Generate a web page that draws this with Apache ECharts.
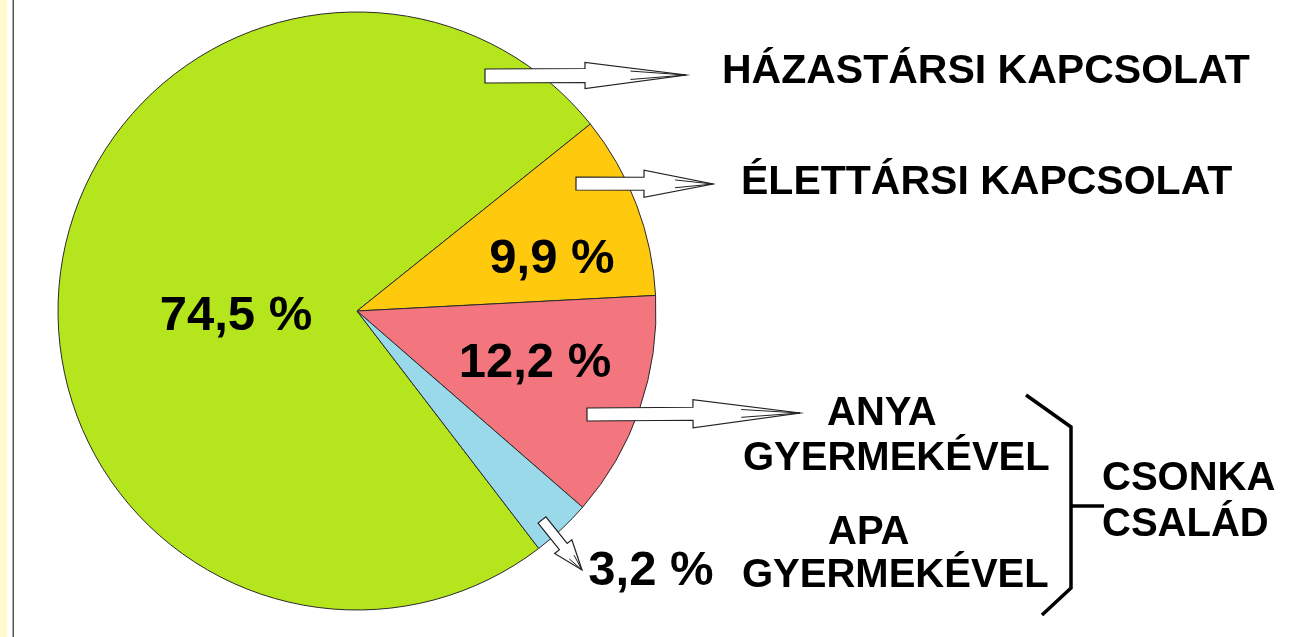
<!DOCTYPE html>
<html>
<head>
<meta charset="utf-8">
<script src="https://cdn.jsdelivr.net/npm/echarts@6/dist/echarts.min.js"></script>
<style>
  html, body { margin: 0; padding: 0; background: #fff; }
  #main { width: 1309px; height: 637px; }
</style>
</head>
<body>
<div id="main"></div>
<script>
// household types (Hungarian census style chart)
var categories = ['HÁZASTÁRSI KAPCSOLAT', 'ÉLETTÁRSI KAPCSOLAT', 'ANYA GYERMEKÉVEL', 'APA GYERMEKÉVEL'];
var shares = [74.5, 9.9, 12.2, 3.2];
var sliceColors = ['#b5e61d', '#ffc90e', '#f3767e', '#99d9ea'];
var groupLabel = ['CSONKA', 'CSALÁD'];

var FONT = '"Liberation Sans", Arial, sans-serif';

// where the percentage labels sit (px)
var labelPos = [[236, 316], [552, 259], [535, 363], [651, 571]];

var chartDom = document.getElementById('main');
var myChart = echarts.init(chartDom);

function pct(v) {
    return v.toFixed(1).replace('.', ',') + ' %';
}

// hollow block arrow from (sx,sy) to tip (tx,ty)
function arrow(sx, sy, tx, ty, shaftHalf, headLen, headHalf) {
    var dx = tx - sx, dy = ty - sy;
    var len = Math.sqrt(dx * dx + dy * dy);
    var ux = dx / len, uy = dy / len;
    var nx = -uy, ny = ux;
    var bx = tx - ux * headLen, by = ty - uy * headLen;
    var pts = [
        [sx + nx * shaftHalf, sy + ny * shaftHalf],
        [bx + nx * shaftHalf, by + ny * shaftHalf],
        [bx + nx * headHalf, by + ny * headHalf],
        [tx, ty],
        [bx - nx * headHalf, by - ny * headHalf],
        [bx - nx * shaftHalf, by - ny * shaftHalf],
        [sx - nx * shaftHalf, sy - ny * shaftHalf]
    ];
    var mx = bx + ux * headLen * 0.45, my = by + uy * headLen * 0.45;
    return [{
        type: 'polygon',
        z: 100,
        shape: { points: pts },
        style: { fill: '#fff', stroke: '#222', lineWidth: 1.2 }
    }, {
        type: 'polyline',
        z: 101,
        shape: { points: [[mx + nx * shaftHalf * 0.6, my + ny * shaftHalf * 0.6], [tx, ty], [mx - nx * shaftHalf * 0.6, my - ny * shaftHalf * 0.6]] },
        style: { stroke: '#222', lineWidth: 1, fill: null }
    }];
}

function txt(str, x, y, size) {
    return {
        type: 'text',
        z: 100,
        x: x,
        y: y,
        style: {
            text: str,
            fill: '#000',
            font: 'bold ' + size + 'px ' + FONT,
            textAlign: 'left',
            textVerticalAlign: 'middle'
        }
    };
}

var graphics = [
    // frame on the left
    { type: 'rect', z: 100, shape: { x: 0, y: 0, width: 7, height: 637 }, style: { fill: '#fffbcf' } },
    { type: 'rect', z: 100, shape: { x: 12.5, y: 0, width: 1.5, height: 637 }, style: { fill: '#555' } },
    // bracket for the single parent group
    { type: 'polyline', z: 100, shape: { points: [[1026, 395], [1071, 427], [1071, 588], [1042, 615]] },
      style: { stroke: '#000', lineWidth: 3.5, fill: null } },
    { type: 'line', z: 100, shape: { x1: 1071, y1: 506, x2: 1104, y2: 506 }, style: { stroke: '#000', lineWidth: 3.5 } },
    txt(categories[0], 722, 72, 41),
    txt(categories[1], 741, 183, 41),
    txt(categories[2].split(' ')[0], 827, 414, 40),
    txt(categories[2].split(' ')[1], 743, 459, 40),
    txt(categories[3].split(' ')[0], 828, 533, 40),
    txt(categories[3].split(' ')[1], 742, 576, 40),
    txt(groupLabel[0], 1102, 479, 40),
    txt(groupLabel[1], 1102, 525, 40)
];
graphics = graphics
    .concat(arrow(485, 76, 686, 75, 7, 101, 13))
    .concat(arrow(576, 183.5, 713, 184, 6.5, 69, 13.5))
    .concat(arrow(587, 414.5, 800, 413, 6.5, 107, 14))
    .concat(arrow(542, 520, 582, 570, 5, 30, 11));

var total = shares.reduce(function (a, b) { return a + b; }, 0);
var option = {
    backgroundColor: '#fff',
    animation: false,
    graphic: graphics,
    series: [{
        type: 'pie',
        center: [357, 311],
        radius: [0, 299],
        startAngle: 38.7 + shares[0] / total * 360,
        clockwise: true,
        silent: true,
        itemStyle: { borderColor: '#2a2a2a', borderWidth: 1 },
        label: {
            show: true,
            position: 'inside',
            color: '#000',
            fontFamily: FONT,
            fontWeight: 'bold',
            fontSize: 49,
            formatter: function (p) { return pct(p.value); }
        },
        labelLine: { show: false },
        labelLayout: function (p) {
            var xy = labelPos[p.dataIndex];
            return { x: xy[0], y: xy[1], align: 'center', verticalAlign: 'middle' };
        },
        data: categories.map(function (c, i) {
            return { name: c, value: shares[i], itemStyle: { color: sliceColors[i] } };
        })
    }]
};

option && myChart.setOption(option);
</script>
</body>
</html>
